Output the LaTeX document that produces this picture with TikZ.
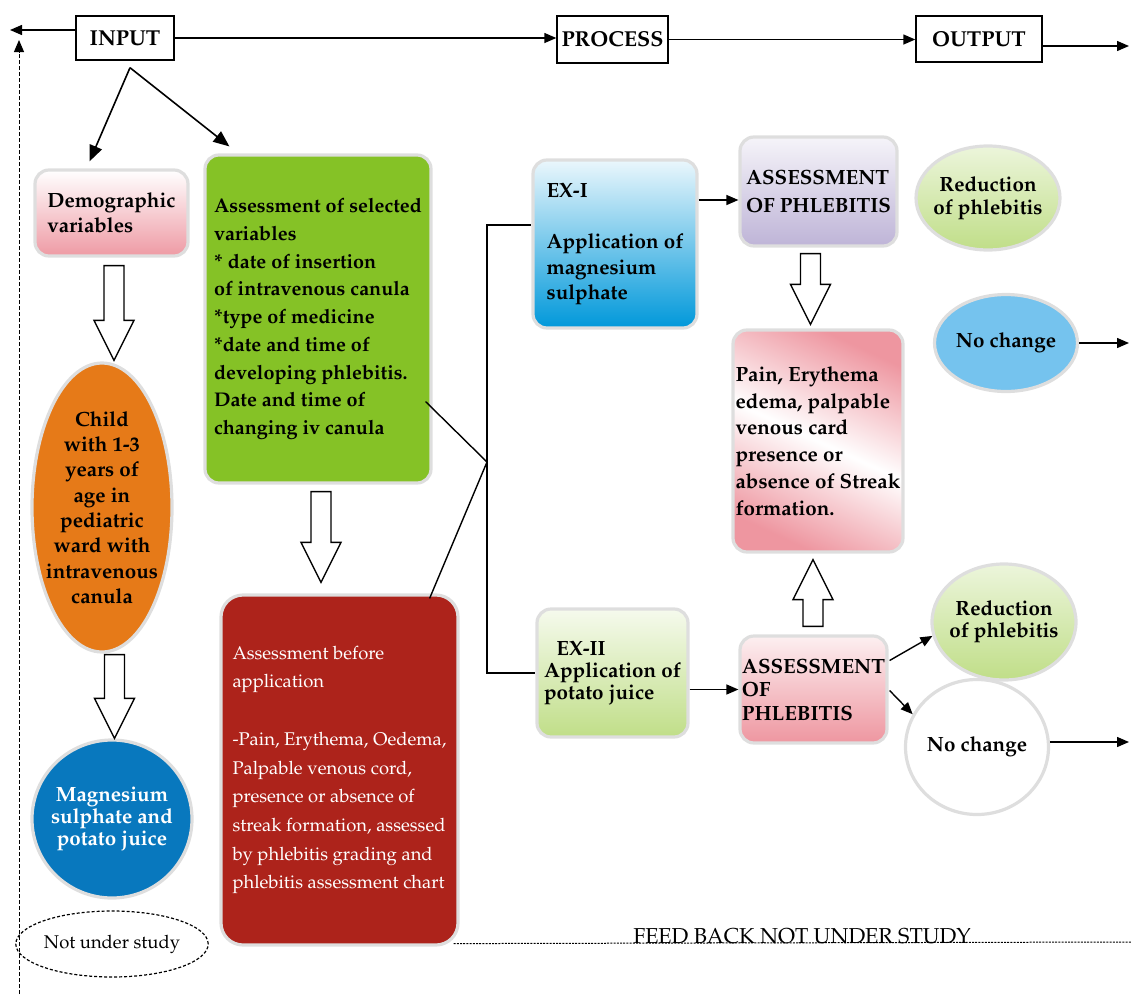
\documentclass[tikz,border=0pt]{standalone}
\usepackage[T1]{fontenc}
\usepackage{mathpazo}
\usetikzlibrary{positioning,arrows.meta,shapes.geometric,calc}

\definecolor{dempink}{RGB}{238,154,164}
\definecolor{orng}{RGB}{230,122,24}
\definecolor{magblue}{RGB}{8,120,190}
\definecolor{selgreen}{RGB}{133,194,38}
\definecolor{darkred}{RGB}{173,35,27}
\definecolor{exblue}{RGB}{0,152,218}
\definecolor{lavender}{RGB}{190,180,215}
\definecolor{rosy}{RGB}{238,150,160}
\definecolor{lgreen}{RGB}{192,222,136}
\definecolor{skyblue}{RGB}{117,195,238}
\definecolor{bordergrey}{RGB}{222,222,222}

\begin{document}
\begin{tikzpicture}[x=0.5pt, y=-0.5pt,
    hdr/.style={draw, line width=0.7pt, inner sep=0pt, font=\fontsize{10.8}{13}\selectfont\bfseries},
    rbox/.style={draw=bordergrey, line width=1.6pt, rounded corners=7pt, inner sep=0pt, align=left},
    oval/.style={ellipse, draw=bordergrey, line width=1.6pt, inner sep=0pt},
    bf/.style={font=\fontsize{10.3}{#1}\selectfont\bfseries},
    rm/.style={font=\fontsize{9.2}{#1}\selectfont},
    arr/.style={-{Triangle[length=6pt,width=5pt]}, line width=0.7pt},
    bigarr/.style={-{Triangle[length=8pt,width=6.5pt]}, line width=0.8pt},
    hol/.style={draw, fill=white, line width=0.7pt, to path={
      let \p1=(\tikztostart), \p2=(\tikztotarget), \p3=($(\p2)!20pt!(\p1)$) in
      ($(\p1)!5pt!90:(\p2)$) -- ($(\p3)!5pt!-90:(\p1)$) -- ($(\p3)!10pt!-90:(\p1)$) -- (\p2)
      -- ($(\p3)!10pt!90:(\p1)$) -- ($(\p3)!5pt!90:(\p1)$) -- ($(\p1)!5pt!-90:(\p2)$) -- cycle}}]
  \useasboundingbox (0,0) rectangle (1131,996);

  % top row
  \node[hdr, minimum width=49pt, minimum height=22pt] (input) at (125,38) {INPUT};
  \node[hdr, minimum width=55.5pt, minimum height=23.5pt] (process) at (612.5,39.5) {PROCESS};
  \node[hdr, minimum width=63pt, minimum height=23pt] (output) at (979,39) {OUTPUT};
  \coordinate (lft) at (10,0);
  \coordinate (rgt) at (1129,0);

  % input column
  \node[rbox, top color=white, bottom color=dempink, minimum width=76.5pt, minimum height=43pt, bf=12.5] (dem) at (111.5,213) {Demographic\\variables};
  \node[oval, fill=orng, minimum width=70pt, minimum height=144.5pt,
        label={[bf=12.65, align=center]center:Child\\with 1-3\\years of\\age in\\pediatric\\ward with\\intravenous\\canula}] (child) at (102,507.5) {};
  \node[oval, fill=magblue, minimum width=80pt, minimum height=79pt,
        label={[bf=11, align=center, text=white]center:Magnesium\\sulphate and\\potato juice}] (magn) at (112,819) {};
  \node[ellipse, draw, dash pattern=on 1.5pt off 1pt, line width=0.6pt, minimum width=82pt, minimum height=33pt, inner sep=0pt, rm=12] (nus) at (112,944) {Not under study};

  \node[rbox, fill=selgreen, minimum width=113pt, minimum height=164pt, font=\fontsize{9.9}{13.85}\selectfont\bfseries] (sel) at (318,319)
    {Assessment of selected\\variables\\{*} date of insertion\\of intravenous canula\\{*}type of medicine\\{*}date and time of\\developing phlebitis.\\Date and time of\\changing iv canula};
  \node[rbox, fill=darkred, rounded corners=11pt, minimum width=118.5pt, minimum height=175pt, rm=14.35, text=white] (pre) at (339.5,770)
    {Assessment before\\application\\[14.35pt]-Pain, Erythema, Oedema,\\Palpable venous cord,\\presence or absence of\\streak formation, assessed\\by phlebitis grading and\\phlebitis assessment chart};

  % process column
  \node[rbox, top color=exblue!8, bottom color=exblue, minimum width=82pt, minimum height=84pt, bf=12.8] (ex1) at (615,244)
    {EX-I\\[12.8pt]Application of\\magnesium\\sulphate};
  \node[rbox, top color=lavender!15, bottom color=lavender, minimum width=78.5pt, minimum height=54.5pt, bf=14] (asm1) at (818.5,191.5)
    {ASSESSMENT\\OF PHLEBITIS};
  \node[rbox, top color=rosy, bottom color=rosy, middle color=white, shading angle=-25, minimum width=85pt, minimum height=111pt, bf=13.4] (sign) at (818,441)
    {Pain, Erythema\\edema, palpable\\venous card\\presence or\\absence of Streak\\formation.};
  \node[rbox, top color=lgreen!15, bottom color=lgreen, minimum width=75.5pt, minimum height=64pt, bf=11] (ex2) at (612.5,673)
    {\hspace*{0.6em}EX-II\\Application of\\potato juice};
  \node[rbox, top color=rosy!15, bottom color=rosy, minimum width=73.5pt, minimum height=53.5pt, bf=11.75] (asm2) at (813.5,689.5)
    {ASSESSMENT\\OF\\PHLEBITIS};

  % output column
  \node[oval, top color=lgreen!30, bottom color=lgreen, minimum width=72pt, minimum height=52pt,
        label={[bf=11.5, align=center]center:Reduction\\of phlebitis}] (red1) at (988,198) {};
  \node[oval, fill=skyblue, minimum width=71.5pt, minimum height=48.5pt,
        label={[bf=12]center:No change}] (nch1) at (1006,343) {};
  \node[oval, top color=lgreen!30, bottom color=lgreen, minimum width=72pt, minimum height=58pt,
        label={[bf=11, align=center]center:Reduction\\of phlebitis}] (red2) at (1004,622) {};
  \node[oval, fill=white, minimum width=71.5pt, minimum height=67.5pt,
        label={[bf=12]center:No change}] (nch2) at (977,747) {};

  % feedback
  \coordinate (fbtop) at (19,40);
  \coordinate (fbbot) at (19,994);
  \coordinate (fbend) at (1131,942);
  \node[inner sep=0pt, font=\fontsize{10.8}{12}\selectfont] (fb) at (802,936) {FEED BACK NOT UNDER STUDY};

  % connectors
  \draw[arr] ([yshift=4pt]input.west) -- ([yshift=4pt]input.west -| lft);
  \draw[arr] (input.east) -- (input.east -| process.west);
  \draw[arr] (process.east) -- (process.east -| output.west);
  \draw[arr] ([yshift=-3.5pt]output.east) -- ([yshift=-3.5pt]output.east -| rgt);
  \draw[arr, dash pattern=on 2pt off 1pt, line width=0.5pt] (fbbot) -- (fbtop);
  \draw[dash pattern=on 1pt off 0.6pt, line width=0.5pt] ($(pre.south east)+(-6,-3)$) -- (fbend);

  \coordinate (fork) at ($(input.south)+(5,7)$);
  \draw[bigarr] (fork) -- ($(dem.north)+(-22,-7)$);
  \draw[bigarr] (fork) -- ($(sel.north west)+(26,-7)$);

  \draw[hol] ($(dem.south)+(2.5,8)$) to ($(child.north)+(12,-1)$);
  \draw[hol] ($(child.south)+(12.5,1)$) to ($(magn.north)+(2.5,0)$);
  \draw[hol] ($(sel.south)+(3,7)$) to ($(pre.north)+(-18.5,-11)$);
  \draw[hol] ($(asm1.south)+(-8,6)$) to ($(sign.north)+(-7.5,-4)$);
  \draw[hol] ($(asm2.north)+(-0.5,-8)$) to ($(sign.south)+(-5,6)$);

  \coordinate (jn) at (487,462);
  \draw[line width=0.7pt] ($(sel.south east)+(-7,-83)$) -- (jn) -- ($(pre.north east)+(-30,5)$);
  \draw[line width=0.7pt] (jn) |- ($(ex1.west)+(0,-19)$);
  \draw[line width=0.7pt] (jn) |- (ex2.west);

  \draw[arr] ([yshift=22pt]ex1.east) -- ([yshift=22pt]ex1.east -| asm1.west);
  \draw[arr] (ex2.east |- asm2.west) -- (asm2.west);
  \draw[arr] ($(asm2.east)+(1,-29)$) -- (red2.191);
  \draw[arr] ($(asm2.east)+(1,1)$) -- (nch2.153);
  \draw[arr] (nch1.east) -- (nch1.east -| rgt);
  \draw[arr] ([yshift=2.5pt]nch2.east) -- ([yshift=2.5pt]nch2.east -| rgt);
\end{tikzpicture}
\end{document}
